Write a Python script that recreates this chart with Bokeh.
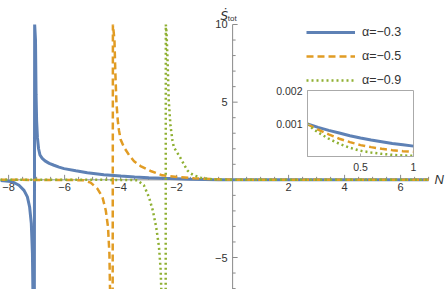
from bokeh.plotting import figure
from bokeh.models import Range1d, FixedTicker, Label, Legend, LegendItem, NumeralTickFormatter
from bokeh.embed import file_html
from bokeh.resources import INLINE
from bokeh.core.properties import value

# ---------------- data ----------------
blue_N = [-8.3, -8.1, -7.93, -7.78, -7.63, -7.45, -7.33, -7.25, -7.19, -7.15, -7.13, -7.1,
          -7.07, -7.04, -7.02, -7.0, -6.97, -6.93, -6.88, -6.8, -6.7, -6.55, -6.38, -6.2, -6.02, -5.6,
          -5.19, -4.6, -4.0, -3.5, -3.0, -2.5, -2.0, -1.5, -1.0, -0.5, 0.0, 1.0, 3.0, 7.0]
blue_S = [-0.05, -0.07, -0.1, -0.2, -0.35, -0.68, -1.1, -1.75, -2.8, -4.7, -7.5, -40.0,
          10.0, 9.0, 5.5, 3.8, 2.7, 2.0, 1.6, 1.38, 1.22, 1.06, 0.94, 0.82, 0.72, 0.58,
          0.46, 0.33, 0.25, 0.19, 0.14, 0.1, 0.07, 0.04, 0.02, 0.008, 0.001, 0.0003, 0.0, 0.0]

orange_N = [-8.3, -6.5, -6.0, -5.6, -5.31, -5.07, -4.83, -4.65, -4.53, -4.45, -4.4, -4.38, -4.36, -4.30,
            -4.275, -4.22, -4.19, -4.15, -4.1, -4.06, -4.0, -3.88, -3.7, -3.52, -3.29, -2.93,
            -2.51, -1.98, -1.38, -0.79, -0.4, 0.0, 1.0, 3.0, 7.0]
orange_S = [0.0, -0.005, -0.01, -0.02, -0.03, -0.18, -0.57, -1.1, -1.97, -3.04, -4.76, -6.9, -9.0, -40.0,
            10.0, 9.0, 7.0, 5.0, 3.8, 3.2, 2.6, 2.1, 1.6, 1.2, 0.89, 0.57,
            0.29, 0.18, 0.1, 0.05, 0.02, 0.001, 0.00017, 0.0, 0.0]

green_N = [-8.3, -5.0, -4.0, -3.6, -3.4, -3.17, -2.99, -2.85, -2.73, -2.63, -2.57, -2.55, -2.53, -2.40,
           -2.385, -2.36, -2.32, -2.28, -2.22, -2.15, -2.1, -1.98, -1.86, -1.74, -1.62, -1.5,
           -1.38, -1.14, -0.9, -0.67, -0.3, 0.0, 1.0, 3.0, 7.0]
green_S = [0.0, 0.0, -0.005, -0.01, -0.03, -0.35, -1.1, -1.97, -3.04, -4.3, -5.8, -6.9, -8.5, -40.0,
           10.0, 9.5, 7.5, 5.1, 3.5, 2.55, 2.1, 1.75, 1.4, 1.0, 0.61, 0.42,
           0.29, 0.14, 0.07, 0.03, 0.008, 0.001, 0.00005, 0.0, 0.0]

inset_x = [0.0, 0.05, 0.1, 0.2, 0.3, 0.4, 0.5, 0.6, 0.7, 0.8, 0.9, 1.0]
inset_blue = [0.001, 0.00095, 0.0009, 0.00081, 0.00073, 0.00065, 0.00058, 0.00052, 0.00047, 0.00042, 0.00038, 0.00034]
inset_orange = [0.001, 0.00091, 0.00083, 0.00069, 0.00056, 0.00046, 0.00037, 0.00031, 0.00026, 0.00022, 0.00019, 0.00017]
inset_green = [0.001, 0.00086, 0.00075, 0.00056, 0.00041, 0.00029, 0.0002, 0.00015, 0.00011, 0.00008, 0.00006, 0.00005]

labels = ["α=−0.3", "α=−0.5", "α=−0.9"]

x_major = [-8, -6, -4, -2, 2, 4, 6]
x_major_labels = ["−8", "−6", "−4", "−2", "2", "4", "6"]
x_minor = [i * 0.5 for i in range(-16, 15) if i % 4 != 0]
y_major = [-5, 5, 10]
y_major_labels = ["−5", "5", "10"]
y_minor = [-7, -6, -4, -3, -2, -1, 1, 2, 3, 4, 6, 7, 8, 9]
inset_x_ticks = [0.5, 1.0]
inset_y_ticks = [0.001, 0.002]

# axis extents (the drawn axes stop at these values)
X_MIN, X_MAX = -8.29, 7.0
Y_MIN, Y_MAX = -7.06, 10.0

# ---------------- styles ----------------
BLUE = "#5E81B5"
ORANGE = "#E19C24"
GREEN = "#8FB032"
AXIS = "#8a8a8a"
TXT = "#333333"
FONT = "Liberation Sans"

p = figure(width=447, height=289, x_range=Range1d(X_MIN, 7.675), y_range=Range1d(Y_MIN, 11.545),
           output_backend="svg", toolbar_location=None,
           min_border_left=0, min_border_right=0, min_border_top=0, min_border_bottom=0)
p.grid.visible = False
p.axis.visible = False
p.outline_line_color = None
p.background_fill_color = "white"
p.border_fill_color = "white"

# axes drawn at the origin
p.segment(x0=[X_MIN, 0], y0=[0, Y_MIN], x1=[X_MAX, 0], y1=[0, Y_MAX], line_color=AXIS, line_width=1)
p.ray(x=x_major, y=[0] * len(x_major), length=5, length_units="screen", angle=90, angle_units="deg",
      line_color=AXIS, line_width=1)
p.ray(x=x_minor, y=[0] * len(x_minor), length=3, length_units="screen", angle=90, angle_units="deg",
      line_color=AXIS, line_width=1)
p.ray(x=[0] * len(y_major), y=y_major, length=5, length_units="screen", angle=0, angle_units="deg",
      line_color=AXIS, line_width=1)
p.ray(x=[0] * len(y_minor), y=y_minor, length=3, length_units="screen", angle=0, angle_units="deg",
      line_color=AXIS, line_width=1)
p.text(x=x_major, y=[0] * len(x_major), text=x_major_labels, text_align="center", text_baseline="top",
       y_offset=3, text_font=value(FONT), text_font_size=value("11px"), text_color=TXT)
p.text(x=[0] * len(y_major), y=y_major, text=y_major_labels, text_align="right", text_baseline="middle",
       x_offset=-5, text_font=value(FONT), text_font_size=value("11px"), text_color=TXT)

r1 = p.line(blue_N, blue_S, line_color=BLUE, line_width=3)
r2 = p.line(orange_N, orange_S, line_color=ORANGE, line_width=2.5, line_dash="7 4")
r3 = p.line(green_N, green_S, line_color=GREEN, line_width=2.5, line_dash="2 3")

legend = Legend(items=[LegendItem(label=labels[0], renderers=[r1]),
                       LegendItem(label=labels[1], renderers=[r2]),
                       LegendItem(label=labels[2], renderers=[r3])],
                location=(306, 199))
legend.background_fill_alpha = 0
legend.border_line_color = None
legend.padding = 0
legend.margin = 0
legend.glyph_width = 49
legend.glyph_height = 20
legend.label_height = 20
legend.spacing = 4
legend.label_standoff = 7
legend.label_text_font = FONT
legend.label_text_font_size = "12.5px"
legend.label_text_color = TXT
p.add_layout(legend)

p.add_layout(Label(x=7.21, y=0, text="N", text_font=FONT, text_font_style="italic",
                   text_font_size="13px", text_color=TXT, text_baseline="middle"))
p.add_layout(Label(x=-0.43, y=10.53, text="\u1e60", text_font="DejaVu Sans", text_font_style="italic",
                   text_font_size="12px", text_color=TXT, text_baseline="alphabetic"))
p.add_layout(Label(x=-0.17, y=10.4, text="tot", text_font=FONT,
                   text_font_size="8px", text_color=TXT, text_baseline="alphabetic"))

# ---------------- inset ----------------
inset = figure(width=154, height=90, x_range=Range1d(0, 1), y_range=Range1d(0.00003, 0.002),
               output_backend="svg", toolbar_location=None,
               min_border_left=40, min_border_right=8, min_border_top=4, min_border_bottom=20,
               styles={"position": "absolute", "left": "267px", "top": "86px"})
inset.grid.visible = False
inset.background_fill_color = "white"
inset.border_fill_alpha = 0
inset.outline_line_color = "#aaaaaa"
inset.line(inset_x, inset_blue, line_color=BLUE, line_width=3)
inset.line(inset_x, inset_orange, line_color=ORANGE, line_width=2.5, line_dash="7 4")
inset.line(inset_x, inset_green, line_color=GREEN, line_width=2.5, line_dash="2 3")
for ax in (inset.xaxis, inset.yaxis):
    ax.axis_line_color = "#aaaaaa"
    ax.major_tick_line_color = "#aaaaaa"
    ax.major_tick_in = 3
    ax.major_tick_out = 0
    ax.minor_tick_line_color = None
    ax.major_label_text_font = FONT
    ax.major_label_text_font_size = "10.5px"
    ax.major_label_text_color = TXT
inset.xaxis.ticker = FixedTicker(ticks=inset_x_ticks)
inset.yaxis.ticker = FixedTicker(ticks=inset_y_ticks)
inset.xaxis.formatter = NumeralTickFormatter(format="0.[0]")
inset.yaxis.formatter = NumeralTickFormatter(format="0.000")
inset.xaxis.major_label_standoff = 6
inset.yaxis.major_label_standoff = 5

open("out.html", "w").write(file_html([p, inset], INLINE))
